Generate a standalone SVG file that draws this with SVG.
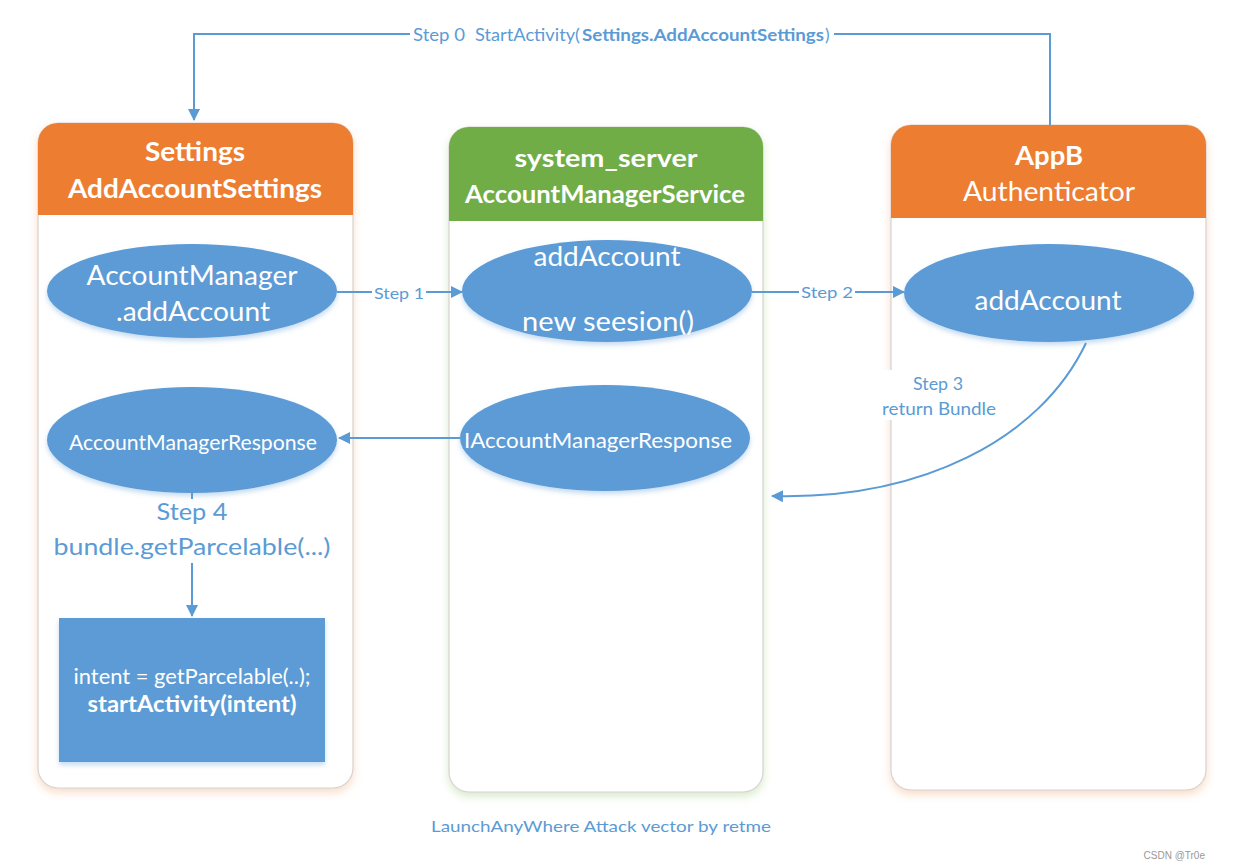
<svg xmlns="http://www.w3.org/2000/svg" width="1251" height="868" viewBox="0 0 1251 868">
<style>
text{font-family:Lato,"Open Sans","Liberation Sans",sans-serif;dominant-baseline:central;}
.card{fill:#fff;stroke:#d6d3d1;stroke-width:1.2;}
.hdr{fill:#fff;font-weight:bold;text-anchor:middle;}
.ell{fill:#5b9bd5;}
.wt{fill:#fff;text-anchor:middle;}
.conn{fill:none;stroke:#5b9bd5;stroke-width:2;}
.lbl{fill:#5b9bd5;text-anchor:middle;}
.lbs{fill:#5b9bd5;text-anchor:start;}
</style>
<defs>
<marker id="ah" viewBox="0 0 12 12" refX="11" refY="6" markerWidth="12" markerHeight="12" markerUnits="userSpaceOnUse" orient="auto">
<path d="M0,0 L12,6 L0,12 Z" fill="#5b9bd5"/>
</marker>
<filter id="shO" x="-10%" y="-10%" width="120%" height="120%">
<feDropShadow dx="0" dy="4" stdDeviation="4" flood-color="#f4b183" flood-opacity="0.45"/>
</filter>
<filter id="shG" x="-10%" y="-10%" width="120%" height="120%">
<feDropShadow dx="0" dy="4" stdDeviation="4" flood-color="#a9d18e" flood-opacity="0.45"/>
</filter>
<filter id="shE" x="-10%" y="-10%" width="120%" height="130%">
<feDropShadow dx="0" dy="3" stdDeviation="2.5" flood-color="#9dc3e6" flood-opacity="0.6"/>
</filter>
</defs>

<g id="settings">
<rect class="card" x="38" y="123" width="315" height="665" rx="20" filter="url(#shO)"/>
<path d="M38,215 L38,143 A20,20 0 0 1 58,123 L333,123 A20,20 0 0 1 353,143 L353,215 Z" fill="#ed7d31"/>
<text class="hdr" x="195" y="151" font-size="26" textLength="100" lengthAdjust="spacingAndGlyphs">Settings</text>
<text class="hdr" x="195" y="188" font-size="26" textLength="254" lengthAdjust="spacingAndGlyphs">AddAccountSettings</text>
</g>

<g id="system_server">
<rect class="card" x="449" y="127" width="314" height="665" rx="20" filter="url(#shG)"/>
<path d="M449,221 L449,147 A20,20 0 0 1 469,127 L743,127 A20,20 0 0 1 763,147 L763,221 Z" fill="#70ad47"/>
<text class="hdr" x="606" y="157" font-size="25" textLength="183" lengthAdjust="spacingAndGlyphs">system_server</text>
<text class="hdr" x="605" y="193" font-size="25" textLength="280" lengthAdjust="spacingAndGlyphs">AccountManagerService</text>
</g>

<g id="appb">
<rect class="card" x="891" y="125" width="315" height="665" rx="20" filter="url(#shO)"/>
<path d="M891,218 L891,145 A20,20 0 0 1 911,125 L1186,125 A20,20 0 0 1 1206,145 L1206,218 Z" fill="#ed7d31"/>
<text class="hdr" x="1049" y="155" font-size="26" textLength="68" lengthAdjust="spacingAndGlyphs">AppB</text>
<text class="wt" x="1049" y="190" font-size="27" textLength="172" lengthAdjust="spacingAndGlyphs">Authenticator</text>
</g>

<g id="am_addAccount">
<ellipse class="ell" cx="192" cy="291" rx="145" ry="47" filter="url(#shE)"/>
<text class="wt" x="192" y="274" font-size="27" textLength="211" lengthAdjust="spacingAndGlyphs">AccountManager</text>
<text class="wt" x="193" y="310" font-size="27" textLength="154" lengthAdjust="spacingAndGlyphs">.addAccount</text>
</g>

<g id="ams_addAccount">
<ellipse class="ell" cx="607" cy="291" rx="145" ry="51" filter="url(#shE)"/>
<text class="wt" x="607" y="255" font-size="27" textLength="147" lengthAdjust="spacingAndGlyphs">addAccount</text>
<text class="wt" x="608" y="320" font-size="27" textLength="172" lengthAdjust="spacingAndGlyphs">new seesion()</text>
</g>

<g id="auth_addAccount">
<ellipse class="ell" cx="1049" cy="293" rx="145" ry="49" filter="url(#shE)"/>
<text class="wt" x="1048" y="299" font-size="27" textLength="147" lengthAdjust="spacingAndGlyphs">addAccount</text>
</g>

<g id="am_response">
<ellipse class="ell" cx="192" cy="440" rx="145" ry="53" filter="url(#shE)"/>
<text class="wt" x="193" y="441" font-size="21" textLength="248" lengthAdjust="spacingAndGlyphs">AccountManagerResponse</text>
</g>

<g id="iam_response">
<ellipse class="ell" cx="605" cy="438" rx="145" ry="53" filter="url(#shE)"/>
<text class="wt" x="598" y="439" font-size="22" textLength="268" lengthAdjust="spacingAndGlyphs">IAccountManagerResponse</text>
</g>

<g id="start_intent">
<rect x="59" y="618" width="266" height="144" fill="#5b9bd5" filter="url(#shE)"/>
<text class="wt" x="192" y="675" font-size="21" textLength="237" lengthAdjust="spacingAndGlyphs">intent = getParcelable(..);</text>
<text class="wt" x="192" y="703" font-size="22" font-weight="bold" textLength="209" lengthAdjust="spacingAndGlyphs">startActivity(intent)</text>
</g>

<g id="connectors">
<path class="conn" d="M1050,125 L1050,34 L834,34 M410,34 L194,34 L194,120" marker-end="url(#ah)"/>
<text class="lbs" x="413" y="34" font-size="17" textLength="52" lengthAdjust="spacingAndGlyphs">Step 0</text>
<text class="lbs" x="475" y="34" font-size="17" textLength="105" lengthAdjust="spacingAndGlyphs">StartActivity(</text>
<text class="lbs" x="582" y="34" font-size="17" font-weight="bold" textLength="242" lengthAdjust="spacingAndGlyphs">Settings.AddAccountSettings</text>
<text class="lbs" x="825" y="34" font-size="17">)</text>
<path class="conn" d="M337,292 L372,292"/>
<path class="conn" d="M426,292 L462,292" marker-end="url(#ah)"/>
<text class="lbl" x="399" y="292" font-size="16" textLength="50" lengthAdjust="spacingAndGlyphs">Step 1</text>
<path class="conn" d="M752,292 L799,292"/>
<path class="conn" d="M855,292 L904,292" marker-end="url(#ah)"/>
<text class="lbl" x="827" y="291" font-size="16" textLength="52" lengthAdjust="spacingAndGlyphs">Step 2</text>
<path class="conn" d="M460,438 L339,438" marker-end="url(#ah)"/>
<path class="conn" d="M1086,343 C1040,440 920,500 772,496" marker-end="url(#ah)"/>
<rect x="878" y="370" width="120" height="50" fill="#fff"/>
<text class="lbl" x="938" y="383" font-size="17" textLength="50" lengthAdjust="spacingAndGlyphs">Step 3</text>
<text class="lbl" x="939" y="408" font-size="17" textLength="114" lengthAdjust="spacingAndGlyphs">return Bundle</text>
<path class="conn" d="M192,493 L192,499"/>
<path class="conn" d="M192,563 L192,616" marker-end="url(#ah)"/>
<text class="lbl" x="192" y="511" font-size="23" textLength="71" lengthAdjust="spacingAndGlyphs">Step 4</text>
<text class="lbl" x="192" y="546" font-size="23" textLength="277" lengthAdjust="spacingAndGlyphs">bundle.getParcelable(...)</text>
</g>

<text class="lbl" x="601" y="825" font-size="16" textLength="340" lengthAdjust="spacingAndGlyphs">LaunchAnyWhere Attack vector by retme</text>
<text x="1205" y="855" fill="#999" font-size="10" text-anchor="end" style="font-family:'Liberation Sans',sans-serif">CSDN @Tr0e</text>
</svg>
